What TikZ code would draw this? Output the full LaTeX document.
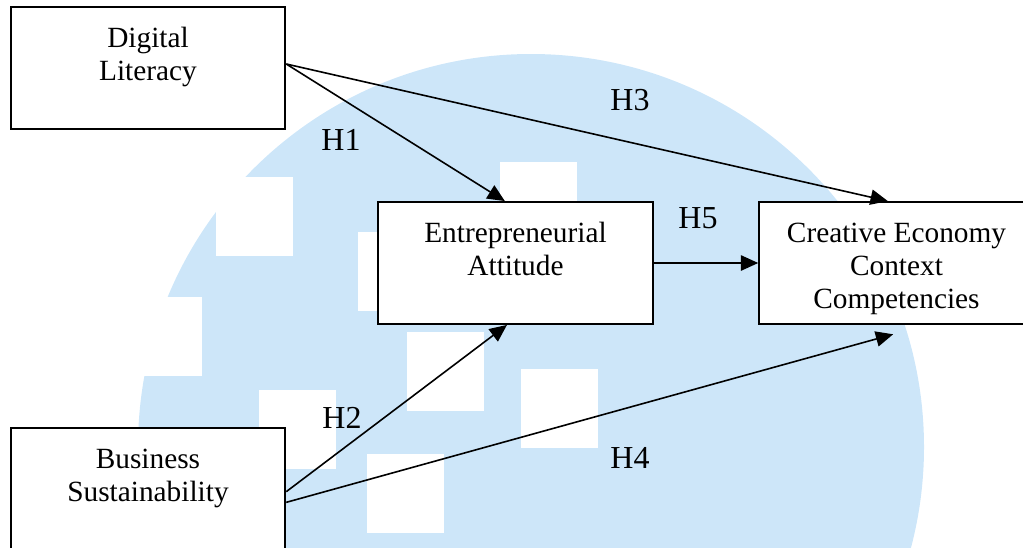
\documentclass[tikz,border=0pt]{standalone}
\usepackage{fontspec}
\setmainfont{Liberation Serif}
\usetikzlibrary{arrows.meta}
\definecolor{wmblue}{RGB}{205,230,249}
% box text: top aligned, first baseline 30pt below the top edge
\newcommand{\boxtxt}[1]{\parbox[c][91.5pt][t]{200pt}{\centering\rule{0pt}{30pt}#1}}

\begin{document}
\begin{tikzpicture}[x=0.75pt, y=-0.75pt, >={Triangle[length=13pt, width=11.5pt]},
  font=\fontsize{22}{24.75}\selectfont,
  V/.style={draw, line width=1.4pt, fill=white, minimum width=206pt, minimum height=91.5pt, inner sep=0pt},
  link/.style={->, line width=1.2pt},
  hyp/.style={inner sep=0pt, font=\fontsize{24}{27}\selectfont}]

\clip (0,0) rectangle (1023,547);

% watermark in the background
\fill[wmblue] (531,447) circle[radius=294.75pt];
\foreach \wx/\wy in {216/177, 500/162, 358/232, 407/332, 259/390, 367/454, 521/369, 125/297}
  \fill[white] (\wx,\wy) rectangle ++(77,79);

\node[V] (dl)  at (148,68)    {\boxtxt{Digital\\Literacy}};
\node[V] (bs)  at (148,489)   {\boxtxt{Business\\Sustainability}};
\node[V] (ea)  at (515.5,263) {\boxtxt{Entrepreneurial\\Attitude}};
\node[V] (cec) at (896.5,263) {\boxtxt{Creative Economy\\Context\\Competencies}};

\coordinate (h4end) at ([xshift=-2.5pt, yshift=-7pt]cec.south);

\draw[link] ([yshift=3pt]dl.east) -- ([xshift=-8pt]ea.north);
\draw[link] ([yshift=3pt]dl.east) -- ([xshift=-6.5pt]cec.north);
\draw[link] ([yshift=-2pt]bs.east) -- ([xshift=-6.4pt]ea.south);
\draw[link] ([yshift=-10pt]bs.east) -- (h4end);
\draw[link] (ea.east) -- (cec.west);

\node[hyp] (h1) at (341,140) {H1};
\node[hyp] (h2) at (342,418) {H2};
\node[hyp] (h3) at (630,100) {H3};
\node[hyp] (h4) at (630,458) {H4};
\node[hyp] (h5) at (698,218) {H5};

\end{tikzpicture}
\end{document}
